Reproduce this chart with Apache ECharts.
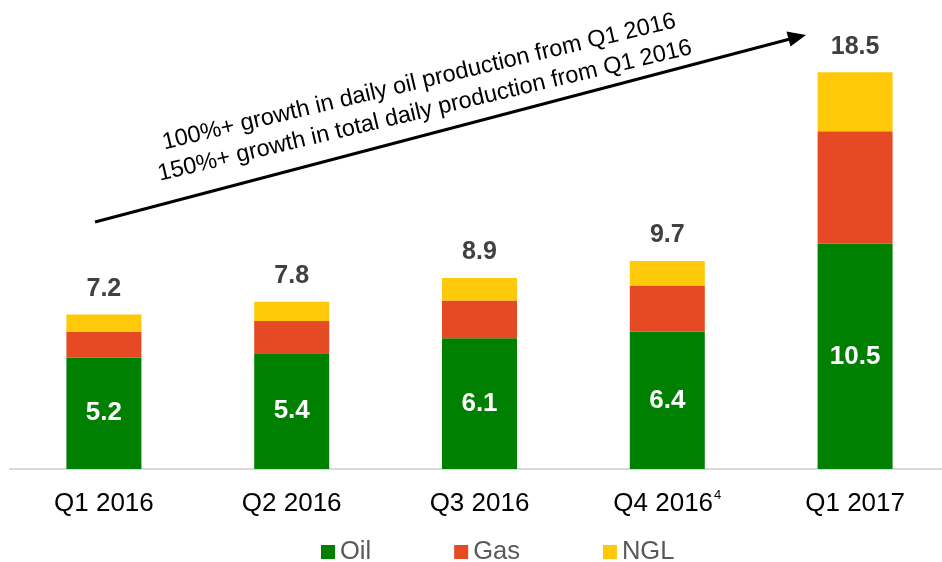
<!DOCTYPE html>
<html>
<head>
<meta charset="utf-8">
<script src="https://cdn.jsdelivr.net/npm/echarts@6/dist/echarts.min.js"></script>
<style>
  html, body { margin: 0; padding: 0; background: #fff; overflow: hidden; }
  #chart { width: 942px; height: 562px; }
</style>
</head>
<body>
<div id="chart"></div>
<script>
var quarters = ['Q1 2016', 'Q2 2016', 'Q3 2016', 'Q4 2016', 'Q1 2017'];
var footnotes = ['', '', '', '4', ''];
var oil = [5.2, 5.4, 6.1, 6.4, 10.5];
var gas = [1.2, 1.5, 1.75, 2.15, 5.25];
var ngl = [0.8, 0.9, 1.05, 1.15, 2.75];
var totals = [7.2, 7.8, 8.9, 9.7, 18.5];
var growthNotes = [
    '100%+ growth in daily oil production from Q1 2016',
    '150%+ growth in total daily production from Q1 2016'
];

var chart = echarts.init(document.getElementById('chart'));
var font = 'Liberation Sans, Arial, sans-serif';

var option = {
    animation: false,
    textStyle: { fontFamily: font },
    grid: { left: 10, width: 939, top: 40, bottom: 93, outerBoundsMode: 'none', containLabel: false },
    legend: {
        left: 316,
        top: 534,
        itemWidth: 14,
        itemHeight: 14,
        itemGap: 83,
        icon: 'rect',
        textStyle: { fontSize: 25.5, color: '#595959', fontFamily: font },
        data: ['Oil', 'Gas', 'NGL']
    },
    xAxis: {
        type: 'category',
        data: quarters,
        axisLine: { lineStyle: { color: '#d9d9d9', width: 2 } },
        axisTick: { show: false },
        axisLabel: {
            interval: 0,
            fontSize: 26,
            color: '#000',
            margin: 20,
            formatter: function (v, i) {
                var s = '{m|' + v + '}';
                if (footnotes[i]) s += '{sup|' + footnotes[i] + '}';
                return s;
            },
            rich: {
                m: { fontSize: 26, color: '#000', lineHeight: 30 },
                sup: { fontSize: 13, color: '#000', lineHeight: 13, verticalAlign: 'top', padding: [0, 0, 0, 1] }
            }
        }
    },
    yAxis: {
        type: 'value',
        min: 0,
        max: 20,
        show: false,
        splitLine: { show: false }
    },
    series: [
        {
            name: 'Oil', type: 'bar', stack: 'p', barWidth: 75,
            itemStyle: { color: '#008000' },
            label: {
                show: true, position: 'inside', color: '#fff',
                fontSize: 26, fontWeight: 'bold', fontFamily: font
            },
            data: oil
        },
        {
            name: 'Gas', type: 'bar', stack: 'p', barWidth: 75,
            itemStyle: { color: '#e64a24' },
            data: gas
        },
        {
            name: 'NGL', type: 'bar', stack: 'p', barWidth: 75,
            itemStyle: { color: '#ffc90a' },
            label: {
                show: true, position: 'top', distance: 13, color: '#404040',
                fontSize: 25, fontWeight: 'bold', fontFamily: font,
                formatter: function (p) { return totals[p.dataIndex].toFixed(1); }
            },
            data: ngl
        }
    ],
    graphic: [
        {
            type: 'line',
            shape: { x1: 95, y1: 222, x2: 790, y2: 39 },
            style: { stroke: '#000', lineWidth: 3 }
        },
        {
            type: 'polygon',
            shape: { points: [[806, 35], [790.5, 46.5], [786.5, 31.5]] },
            style: { fill: '#000' }
        },
        {
            type: 'group',
            x: 419, y: 82,
            rotation: 13.4 * Math.PI / 180,
            children: [
                {
                    type: 'text', x: 0, y: 0,
                    style: { text: growthNotes[0], fontSize: 23.5, fontFamily: font, fill: '#000', align: 'center', verticalAlign: 'middle' }
                },
                {
                    type: 'text', x: -1, y: 29.5,
                    style: { text: growthNotes[1], fontSize: 23.5, fontFamily: font, fill: '#000', align: 'center', verticalAlign: 'middle' }
                }
            ]
        }
    ]
};

chart.setOption(option);
</script>
</body>
</html>
